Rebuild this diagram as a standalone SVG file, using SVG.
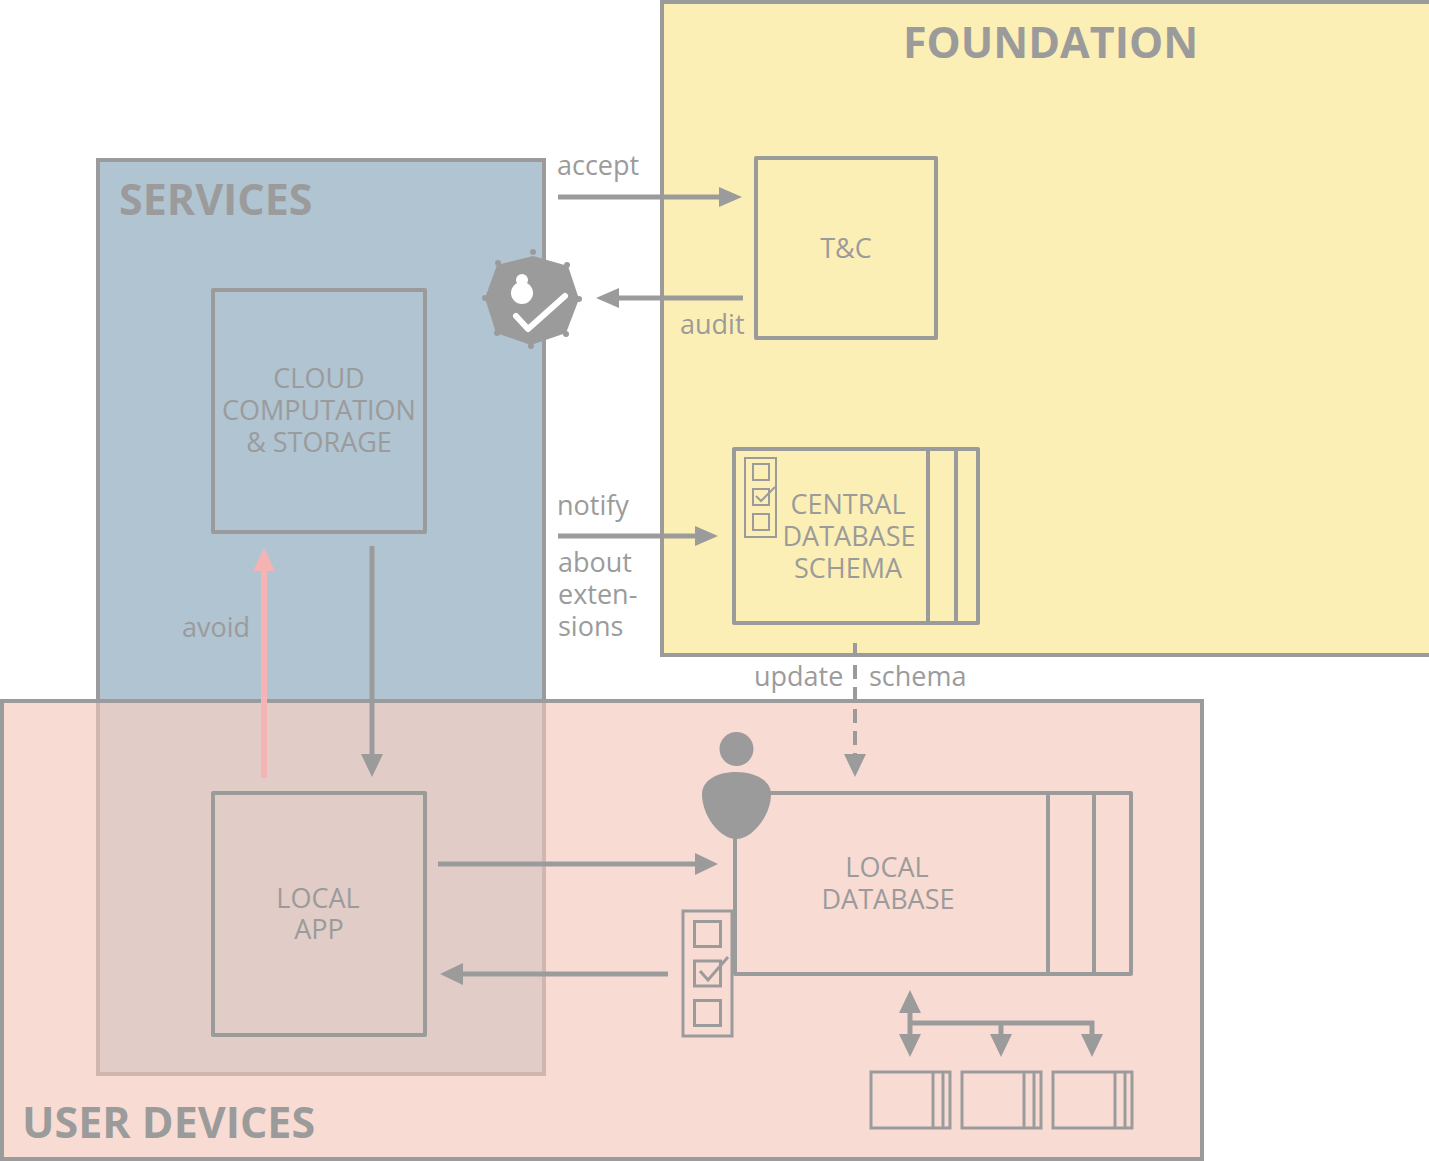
<svg xmlns="http://www.w3.org/2000/svg" width="1429" height="1161" viewBox="0 0 1429 1161">
<style>
text{font-family:"Open Sans","Noto Sans","Liberation Sans",sans-serif;fill:#9b9b9b;font-size:27px}
.t{font-weight:700;font-size:43px}
.m{text-anchor:middle}
.b{fill:none;stroke:#9b9b9b;stroke-width:4;stroke-linejoin:round}
.s{fill:none;stroke:#9b9b9b;stroke-width:3}
.l{fill:none;stroke:#9b9b9b;stroke-width:5}
.h{fill:#9b9b9b}
</style>
<rect width="1429" height="1161" fill="#fff"/>
<g id="foundation"><rect x="662" y="2" width="769" height="653" fill="#fcefb5" stroke="#9b9b9b" stroke-width="4"/><text class="t" x="903" y="58">FOUNDATION</text></g>
<g id="services"><rect x="98" y="160" width="446" height="914" fill="#b0c4d2" stroke="#9b9b9b" stroke-width="4"/><text class="t" x="119" y="215">SERVICES</text></g>
<g id="user-devices"><rect x="2" y="701" width="1200" height="458" fill="#f8dcd4" stroke="#9b9b9b" stroke-width="4"/>
<rect x="98" y="703" width="446" height="371" fill="#e2ccc7"/><path d="M98 703V1074H544V703" fill="none" stroke="#cfb6ae" stroke-width="4"/><path d="M96 701H546" stroke="#9b9b9b" stroke-width="4"/>
<text class="t" x="22" y="1138">USER DEVICES</text></g>
<g id="tc"><rect class="b" x="756" y="158" width="180" height="180"/><text class="m" x="846" y="258">T&amp;C</text></g>
<g id="cloud"><rect class="b" x="213" y="290" width="212" height="242"/><text class="m" x="319" y="388">CLOUD</text><text class="m" x="319" y="420">COMPUTATION</text><text class="m" x="319" y="452">&amp; STORAGE</text></g>
<g id="central-db"><rect class="b" x="734" y="449" width="244" height="174"/><path class="b" d="M928 449V623M956 449V623"/>
<rect x="745" y="458" width="31" height="79" fill="none" stroke="#9b9b9b" stroke-width="2"/>
<g fill="none" stroke="#9b9b9b" stroke-width="2"><rect x="753" y="464" width="16" height="16"/><rect x="753" y="489" width="16" height="16"/><rect x="753" y="514" width="16" height="16"/><path d="M756 496l5 5 14-14"/></g>
<text class="m" x="848" y="514">CENTRAL</text><text class="m" x="849" y="546">DATABASE</text><text class="m" x="848" y="578">SCHEMA</text></g>
<g id="local-app"><rect class="b" x="213" y="793" width="212" height="242"/><text class="m" x="318" y="908">LOCAL</text><text class="m" x="319" y="939">APP</text></g>
<g id="local-db"><path class="b" d="M770 793H1131V974H735V838"/><path class="b" d="M1048 793V974M1094 793V974"/>
<text class="m" x="887" y="877">LOCAL</text><text class="m" x="888" y="909">DATABASE</text>
<circle cx="736.500" cy="749" r="17" class="h"/><path class="h" d="M736 772C716 772 702 781 702 794C702 816 720 839 736 839C752 839 771 816 771 794C771 781 756 772 736 772Z"/>
<rect x="683" y="911" width="49" height="125" fill="#f8dcd4" stroke="#9b9b9b" stroke-width="3"/>
<g class="s"><rect x="694.500" y="921.500" width="26" height="25"/><rect x="694.500" y="961" width="26" height="25"/><rect x="694.500" y="1000.500" width="26" height="25"/><path d="M700 971l8 9 20-23"/></g></g>
<g id="shard-1"><rect class="s" x="871" y="1072" width="79" height="56"/><path class="s" d="M933 1072V1128M943 1072V1128"/></g>
<g id="shard-2"><rect class="s" x="962" y="1072" width="79" height="56"/><path class="s" d="M1024 1072V1128M1034 1072V1128"/></g>
<g id="shard-3"><rect class="s" x="1053" y="1072" width="79" height="56"/><path class="s" d="M1115 1072V1128M1125 1072V1128"/></g>
<g id="badge"><path class="h" d="M533 256L568 266L579 299L566 333L531 345L496 333L485 298L497 265Z"/>
<g class="h"><circle cx="533" cy="252" r="3"/><circle cx="567" cy="265" r="3"/><circle cx="579" cy="299" r="3"/><circle cx="566" cy="334" r="3"/><circle cx="531" cy="346" r="3"/><circle cx="497" cy="333" r="3"/><circle cx="485" cy="298" r="3"/><circle cx="498" cy="263" r="3"/></g>
<circle cx="522" cy="280" r="6" fill="#fff"/><ellipse cx="522" cy="293" rx="11" ry="11" fill="#fff"/>
<path d="M516 316L528 329L565 296" fill="none" stroke="#fff" stroke-width="6" stroke-linecap="round" stroke-linejoin="round"/></g>
<g id="connectors">
<path class="l" d="M558 197H720"/><path class="h" d="M742 197L719 187V207Z"/>
<path class="l" d="M743 298H618"/><path class="h" d="M596 298L619 288V308Z"/>
<path class="l" d="M558 536H696"/><path class="h" d="M718 536L695 526V546Z"/>
<path class="l" d="M372 546V755"/><path class="h" d="M372 777L361 754H383Z"/>
<path d="M264 778V570" fill="none" stroke="#f6b3b3" stroke-width="6"/><path d="M264 548L253 571H275Z" fill="#f6b3b3"/>
<path class="l" d="M438 864H696"/><path class="h" d="M718 864L695 853V875Z"/>
<path class="l" d="M668 974H462"/><path class="h" d="M440 974L463 963V985Z"/>
<path d="M855 643V755" fill="none" stroke="#9b9b9b" stroke-width="4" stroke-dasharray="14 8"/><path class="h" d="M855 777L844 754H866Z"/>
<path class="l" d="M910 1012V1036M910 1023H1092V1034M1001 1023V1034"/>
<path class="h" d="M910 990L899 1013H921ZM910 1057L899 1034H921ZM1001 1057L990 1034H1012ZM1092 1057L1081 1034H1103Z"/>
</g>
<g id="labels"><text x="557" y="175">accept</text><text x="680" y="334">audit</text><text x="557" y="515">notify</text><text x="558" y="572">about</text><text x="558" y="604">exten-</text><text x="558" y="636">sions</text><text x="182" y="637">avoid</text><text x="754" y="686">update</text><text x="869" y="686">schema</text></g>
</svg>
